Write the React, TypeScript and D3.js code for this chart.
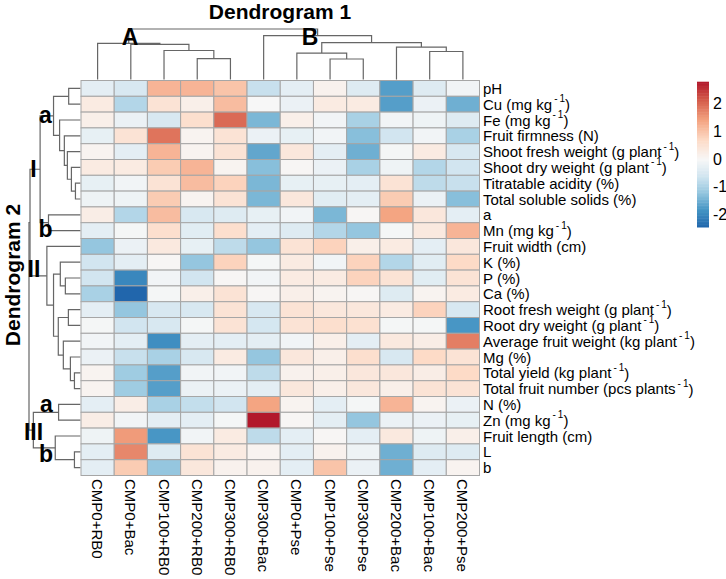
import React from 'react';
import * as d3 from 'd3';

// Treatments (columns) in dendrogram order
const treatments = [
  'CMP0+RB0', 'CMP0+Bac', 'CMP100+RB0', 'CMP200+RB0', 'CMP300+RB0', 'CMP300+Bac',
  'CMP0+Pse', 'CMP100+Pse', 'CMP300+Pse', 'CMP200+Bac', 'CMP100+Bac', 'CMP200+Pse',
];

// Traits (rows) in dendrogram order; "^-1" marks a superscript
const traits = [
  'pH', 'Cu (mg kg^-1)', 'Fe (mg kg^-1)', 'Fruit firmness (N)',
  'Shoot fresh weight (g plant^-1)', 'Shoot dry weight (g plant^-1)',
  'Titratable acidity (%)', 'Total soluble solids (%)', 'a', 'Mn (mg kg^-1)',
  'Fruit width (cm)', 'K (%)', 'P (%)', 'Ca (%)', 'Root fresh weight (g plant^-1)',
  'Root dry weight (g plant^-1)', 'Average fruit weight (kg plant^-1)', 'Mg (%)',
  'Total yield (kg plant^-1)', 'Total fruit number (pcs plants^-1)', 'N (%)',
  'Zn (mg kg^-1)', 'Fruit length (cm)', 'L', 'b',
];

// Row-scaled values (z-scores), one row per trait
const zScores: number[][] = [
  [-0.3, -0.5, 1.2, 1.2, 1.0, -0.7, -0.3, 0.15, -0.4, -1.7, -0.4, -0.1],
  [0.3, -0.9, 0.5, 0.2, 1.1, 0.0, -0.2, 0.3, 0.3, -1.7, -0.2, -1.5],
  [0.2, -0.2, -0.5, 0.6, 2.0, -1.4, 0.2, -0.1, -1.0, -0.1, -0.15, -0.4],
  [-0.25, 0.5, 1.9, 0.1, 0.5, -0.2, -0.25, -0.1, -1.3, -0.6, -0.1, -1.0],
  [0.1, -0.3, 1.2, 0.1, 0.5, -1.6, 0.4, -0.3, -1.5, -0.05, 0.3, -0.5],
  [0.3, 0.3, 0.9, 1.2, 0.1, -1.3, 0.05, -0.2, -1.0, -0.15, -0.9, -0.6],
  [-0.25, -0.1, 0.5, 1.1, 0.8, -1.4, -0.25, -0.25, -0.3, 0.5, -0.8, -0.7],
  [-0.15, -0.15, 0.9, 0.1, 0.5, -1.4, 0.4, -0.35, -0.3, 0.9, -0.2, -1.3],
  [0.25, -0.9, 1.1, -0.5, -0.4, -0.25, -0.1, -1.4, 0.05, 1.4, 0.4, -0.3],
  [-0.3, -0.05, 0.6, -0.35, 0.6, -0.3, -0.4, -0.9, -1.2, -0.05, 0.35, 1.2],
  [-1.2, -0.2, 0.35, -0.25, -0.8, -1.2, 0.5, 0.8, 0.2, 0.3, -0.3, 0.4],
  [-0.6, -0.3, 0.05, -1.2, 0.8, -0.05, 0.3, -0.1, 0.8, -0.9, -0.35, 0.7],
  [-0.6, -2.0, -0.1, -0.6, 0.05, -0.1, 0.3, 0.3, 0.8, 0.5, -0.35, 0.5],
  [-1.0, -2.45, -0.05, 0.2, 0.5, 0.05, 0.2, 0.1, 0.05, -0.4, 0.1, 0.3],
  [-0.3, -1.2, -0.5, -0.5, 0.5, -0.5, 0.5, 0.4, 0.4, 0.3, 0.8, -0.5],
  [-0.05, -0.6, -0.5, -0.05, 0.5, -0.55, 0.5, 0.6, 0.55, -0.05, -0.05, -1.8],
  [-0.1, -0.3, -1.9, -0.3, -0.3, -0.3, -0.1, 0.2, -0.3, 0.35, 0.25, 1.8],
  [-0.2, -0.7, -1.0, -0.5, 0.3, -1.2, 0.4, 0.2, 0.6, -0.5, 0.7, 0.5],
  [0.1, -1.1, -1.7, -0.1, -0.1, -0.8, 0.15, 0.2, 0.4, 0.4, 0.25, 0.7],
  [0.1, -1.1, -1.7, -0.2, -0.2, -0.3, 0.4, 0.2, 0.4, 0.2, 0.5, 0.5],
  [-0.3, 0.25, -1.0, -0.75, -0.6, 1.4, 0.1, -0.3, -0.05, 1.2, 0.1, -0.2],
  [0.25, -0.1, -0.3, -0.3, -0.05, 2.8, 0.05, -0.3, -1.2, -0.2, -0.2, -0.25],
  [-0.15, 1.5, -1.8, -0.1, 0.3, -0.8, -0.3, 0.05, -0.3, 0.35, -0.15, 0.2],
  [-0.3, 1.7, -0.4, 0.5, 0.3, 0.1, -0.3, 0.15, -0.15, -1.5, -0.4, -0.4],
  [-0.3, 0.9, -1.2, 0.4, 0.15, 0.15, -0.3, 1.0, -0.2, -1.5, -0.3, 0.1],
];

// Cluster trees: [merge height, left, right]; numbers are leaf indices
type Tree = number | [number, Tree, Tree];

const colTree: Tree = [51,
  [36.5, 0, [35.5, 1, [29.3, 2, [21, 3, 4]]]],
  [44.3, 5, [37.3, [26.7, 6, [20.7, 7, 8]], [32.7, 9, [28.3, 10, 11]]]],
];

const rowTree: Tree = [51,
  [50,
    [40,
      [26.7, [11.7, 0, 1], [20.7, 2, [16, 3, [13, 4, [9, 5, [5, 6, 7]]]]]],
      [31.7, 8, 9]],
    [33.3, 10,
      [26.7,
        [20, 11, [15, 12, 13]],
        [22, [12, 14, 15], [17, 16, [10, 17, [6, 18, 19]]]]]]],
  [46.7, [21.7, 20, 21], [25, 22, [6, 23, 24]]],
];

const legendTicks = [2, 1, 0, -1, -2];

// RdBu (9 classes), reversed so that high values are red
const palette = [
  '#2166ac', '#4393c3', '#92c5de', '#d1e5f0', '#f7f7f7',
  '#fddbc7', '#f4a582', '#d6604d', '#b2182b',
];

interface Placed { p: number; h: number; }

function layoutTree(t: Tree, pos: (i: number) => number, segs: [Placed, Placed, Placed][]): Placed {
  if (typeof t === 'number') return { p: pos(t), h: 0 };
  const l = layoutTree(t[1], pos, segs);
  const r = layoutTree(t[2], pos, segs);
  const node = { p: (l.p + r.p) / 2, h: t[0] };
  segs.push([node, l, r]);
  return node;
}

function Label({ text, ...rest }: any) {
  const parts = text.split('^-1');
  return (
    <text {...rest}>
      {parts[0]}
      {parts.length > 1 && (
        <>
          <tspan fontSize={10} dy={-6}>{'\u2009-\u20091'}</tspan>
          <tspan dy={6}>{parts[1]}</tspan>
        </>
      )}
    </text>
  );
}

export default function App() {
  const W = 726;
  const H = 579;

  const x = d3.scaleBand<number>().domain(d3.range(treatments.length)).range([81, 479.5]);
  const y = d3.scaleBand<number>().domain(d3.range(traits.length)).range([80.5, 475.5]);

  const all = zScores.flat();
  const [vMin, vMax] = d3.extent(all) as [number, number];
  const color = d3.scaleLinear<string>()
    .domain([
      vMin, (vMin * 3) / 4, vMin / 2, vMin / 4, 0,
      vMax / 4, vMax / 2, (vMax * 3) / 4, vMax,
    ])
    .range(palette)
    .interpolate(d3.interpolateRgb);

  // Column dendrogram (top)
  const colH = d3.scaleLinear().domain([0, 51]).range([79.5, 29]);
  const colSegs: [Placed, Placed, Placed][] = [];
  layoutTree(colTree, (i) => x(i)! + x.bandwidth() / 2, colSegs);
  const colPaths = colSegs.map(([n, l, r]) =>
    `M${l.p},${colH(l.h)}V${colH(n.h)}H${r.p}V${colH(r.h)}`);

  // Row dendrogram (left)
  const rowH = d3.scaleLinear().domain([0, 51]).range([80.5, 29]);
  const rowSegs: [Placed, Placed, Placed][] = [];
  layoutTree(rowTree, (i) => y(i)! + y.bandwidth() / 2, rowSegs);
  const rowPaths = rowSegs.map(([n, l, r]) =>
    `M${rowH(l.h)},${l.p}H${rowH(n.h)}V${r.p}H${rowH(r.h)}`);

  // Colour legend
  const legY = d3.scaleLinear().domain([vMin, vMax]).range([227, 81.7]);
  const legSteps = d3.range(100).map((i) => vMin + ((vMax - vMin) * i) / 100);
  const legStep = (vMax - vMin) / 100;

  const font = "'Liberation Sans', Arial, sans-serif";
  const dendroStroke = '#666';

  return (
    <svg width={W} height={H} style={{ position: 'absolute', left: 0, top: 0, background: '#fff' }}
      fontFamily={font}>
      <text x={280} y={19} textAnchor="middle" fontSize={21} fontWeight="bold">Dendrogram 1</text>
      <text transform={`translate(20,275) rotate(-90)`} textAnchor="middle" fontSize={21}
        fontWeight="bold">Dendrogram 2</text>

      <g fill="none" stroke={dendroStroke} strokeWidth={1.2}>
        {colPaths.map((d, i) => <path key={`c${i}`} d={d} />)}
        {rowPaths.map((d, i) => <path key={`r${i}`} d={d} />)}
      </g>

      <g>
        {zScores.map((row, r) => row.map((v, c) => (
          <rect key={`${r}-${c}`} x={x(c)} y={y(r)} width={x.bandwidth()} height={y.bandwidth()}
            fill={color(v)} stroke="#a6a6a6" strokeWidth={1} />
        )))}
      </g>

      {/* cluster annotations */}
      <g fontWeight="bold" fill="#000" fontSize={23} textAnchor="middle">
        <text x={130} y={45}>A</text>
        <text x={310} y={44.5}>B</text>
        <text x={45.5} y={123}>a</text>
        <text x={33.5} y={177}>I</text>
        <text x={45.5} y={236.5}>b</text>
        <text x={34} y={277}>II</text>
        <text x={46.5} y={411.5}>a</text>
        <text x={33.5} y={440}>III</text>
        <text x={46} y={461.5}>b</text>
      </g>

      <g fontSize={15} fill="#000">
        {traits.map((t, r) => (
          <Label key={t} text={t} x={483} y={y(r)! + y.bandwidth() / 2} dominantBaseline="central" />
        ))}
      </g>

      <g fontSize={15} fill="#000">
        {treatments.map((t, c) => (
          <text key={t} transform={`translate(${x(c)! + x.bandwidth() / 2},479) rotate(90)`}
            dominantBaseline="central">{t}</text>
        ))}
      </g>

      <g>
        {legSteps.map((v, i) => (
          <rect key={i} x={697} y={legY(v + legStep)} width={12}
            height={legY(v) - legY(v + legStep) + 0.5} fill={color(v + legStep / 2)} />
        ))}
        {legendTicks.map((t) => (
          <text key={t} x={713} y={legY(t)} dominantBaseline="central" fontSize={16}>{t}</text>
        ))}
      </g>
    </svg>
  );
}
